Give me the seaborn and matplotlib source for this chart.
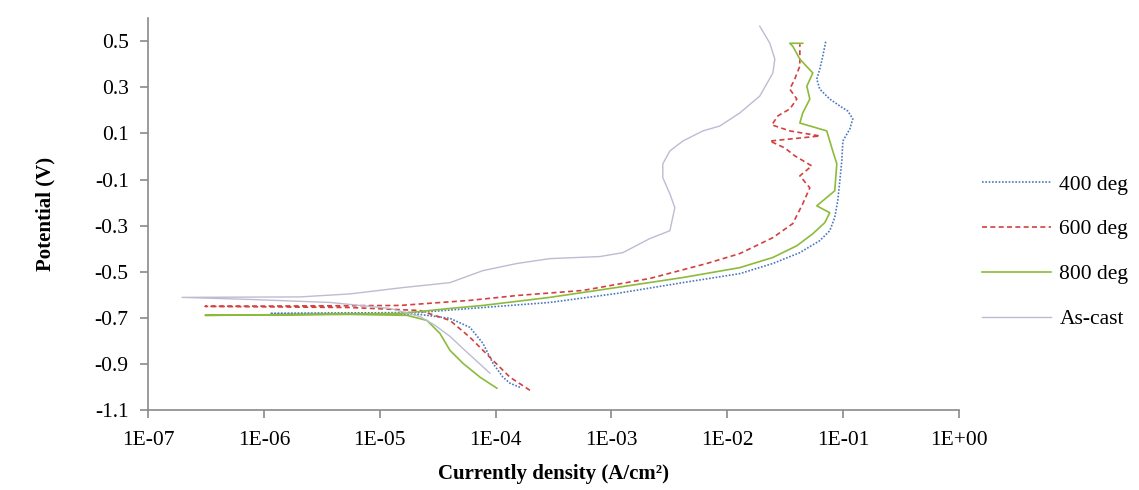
import matplotlib.pyplot as plt
import matplotlib.ticker as mticker
import numpy as np
import seaborn as sns

# log10 of current density (A/cm2) and potential (V)
deg400_logi = [-3.790, -3.877, -3.937, -4.023, -4.110, -4.222, -4.394, -4.653, -5.257, -5.947,
               -5.257, -4.653, -4.110, -3.532, -2.953, -2.384, -1.892, -1.607, -1.374, -1.202,
               -1.116, -1.073, -1.047, -1.029, -1.012, -1.003, -0.943, -0.917, -0.960, -1.029,
               -1.116, -1.202, -1.228, -1.202, -1.176, -1.150]
deg400_e = [-1.001, -0.983, -0.957, -0.897, -0.810, -0.741, -0.702, -0.685, -0.681, -0.681,
            -0.679, -0.676, -0.655, -0.633, -0.594, -0.547, -0.508, -0.464, -0.417, -0.365,
            -0.322, -0.265, -0.192, -0.105, -0.019, 0.067, 0.119, 0.163, 0.197, 0.219,
            0.249, 0.292, 0.336, 0.379, 0.435, 0.500]

deg600_logi = [-3.704, -3.877, -4.049, -4.222, -4.394, -4.653, -5.257, -6.508,
               -5.689, -4.826, -4.222, -3.816, -3.247, -2.669, -2.177, -1.892, -1.607, -1.435,
               -1.349, -1.288, -1.374, -1.271, -1.418, -1.504, -1.633, -1.374, -1.202, -1.461,
               -1.616, -1.564, -1.461, -1.400, -1.461, -1.418, -1.374, -1.374]
deg600_e = [-1.014, -0.957, -0.871, -0.784, -0.711, -0.668, -0.655, -0.650,
            -0.648, -0.646, -0.624, -0.603, -0.581, -0.529, -0.464, -0.421, -0.352, -0.291,
            -0.205, -0.136, -0.084, -0.041, 0.003, 0.037, 0.067, 0.080, 0.089, 0.111,
            0.137, 0.176, 0.206, 0.249, 0.292, 0.336, 0.392, 0.487]

deg800_logi = [-3.989, -4.135, -4.282, -4.394, -4.481, -4.593, -4.765, -5.257, -6.508,
               -5.689, -4.826, -4.394, -4.110, -3.532, -2.953, -2.384, -1.892, -1.607, -1.400,
               -1.262, -1.159, -1.116, -1.228, -1.073, -1.055, -1.090, -1.142, -1.374, -1.349,
               -1.288, -1.314, -1.262, -1.374, -1.435, -1.461, -1.349]
deg800_e = [-1.005, -0.957, -0.897, -0.841, -0.767, -0.711, -0.689, -0.685, -0.689,
            -0.685, -0.681, -0.659, -0.646, -0.611, -0.568, -0.525, -0.482, -0.438, -0.387,
            -0.335, -0.287, -0.244, -0.214, -0.149, -0.032, 0.024, 0.111, 0.145, 0.189,
            0.249, 0.305, 0.362, 0.422, 0.478, 0.491, 0.491]

ascast_logi = [-4.049, -4.153, -4.265, -4.394, -4.524, -4.653, -4.912, -5.430, -6.120, -6.707,
               -5.689, -5.257, -4.826, -4.394, -4.110, -3.816, -3.532, -3.100, -2.902, -2.669,
               -2.496, -2.453, -2.496, -2.557, -2.557, -2.496, -2.384, -2.211, -2.065, -1.892,
               -1.720, -1.607, -1.590, -1.633, -1.720]
ascast_e = [-0.940, -0.892, -0.841, -0.780, -0.732, -0.694, -0.659, -0.633, -0.620, -0.611,
            -0.609, -0.596, -0.570, -0.547, -0.495, -0.464, -0.443, -0.434, -0.417, -0.356,
            -0.322, -0.222, -0.162, -0.092, -0.032, 0.024, 0.067, 0.111, 0.132, 0.189,
            0.262, 0.362, 0.422, 0.491, 0.565]

labels = ["400 deg", "600 deg", "800 deg", "As-cast"]

plt.rcParams["font.family"] = ["Liberation Serif", "DejaVu Serif"]

fig, ax = plt.subplots(figsize=(11.39, 4.90), dpi=100)
fig.subplots_adjust(left=0.130, right=0.842, bottom=0.163, top=0.963)

series = [
    (deg400_logi, deg400_e, "#4a78c0", (0, (1, 1)), 1.2),
    (deg600_logi, deg600_e, "#d2413f", (0, (3, 2)), 1.2),
    (deg800_logi, deg800_e, "#8cbb3c", "-", 1.2),
    (ascast_logi, ascast_e, "#bcbcd2", "-", 1.0),
]
for (li, e, col, ls, lw), lab in zip(series, labels):
    sns.lineplot(x=10 ** np.array(li), y=e, sort=False, estimator=None, ax=ax,
                 color=col, linestyle=ls, linewidth=lw, label=lab)

ax.set_xscale("log")
ax.set_xlim(1e-7, 1)
ax.set_ylim(-1.1, 0.6)
ax.xaxis.set_major_locator(mticker.FixedLocator([10.0 ** k for k in range(-7, 1)]))
ax.xaxis.set_minor_locator(mticker.NullLocator())
ax.xaxis.set_major_formatter(mticker.FuncFormatter(lambda v, p: "1E%+03d" % round(np.log10(v))))
ax.set_yticks(np.arange(-1.1, 0.51, 0.2))
ax.yaxis.set_major_formatter(mticker.FormatStrFormatter("%.1f"))

for s in ["top", "right"]:
    ax.spines[s].set_visible(False)
for s in ["left", "bottom"]:
    ax.spines[s].set_color("#8a8a8a")
    ax.spines[s].set_linewidth(1.2)
ax.tick_params(axis="both", direction="out", length=6, width=1.2, color="#8a8a8a",
               labelsize=15.5)
ax.tick_params(axis="x", pad=9)
ax.tick_params(axis="y", pad=8)

ax.set_xlabel("Currently density (A/cm²)", fontsize=15, fontweight="bold", labelpad=10)
ax.set_ylabel("Potential (V)", fontsize=15, fontweight="bold", labelpad=28)

ax.legend(loc="center left", bbox_to_anchor=(0.862, 0.486), bbox_transform=fig.transFigure,
          frameon=False, fontsize=15.5, handlelength=3.2, labelspacing=1.15,
          borderaxespad=0, borderpad=0, handletextpad=0.4)

plt.savefig("out.png")
